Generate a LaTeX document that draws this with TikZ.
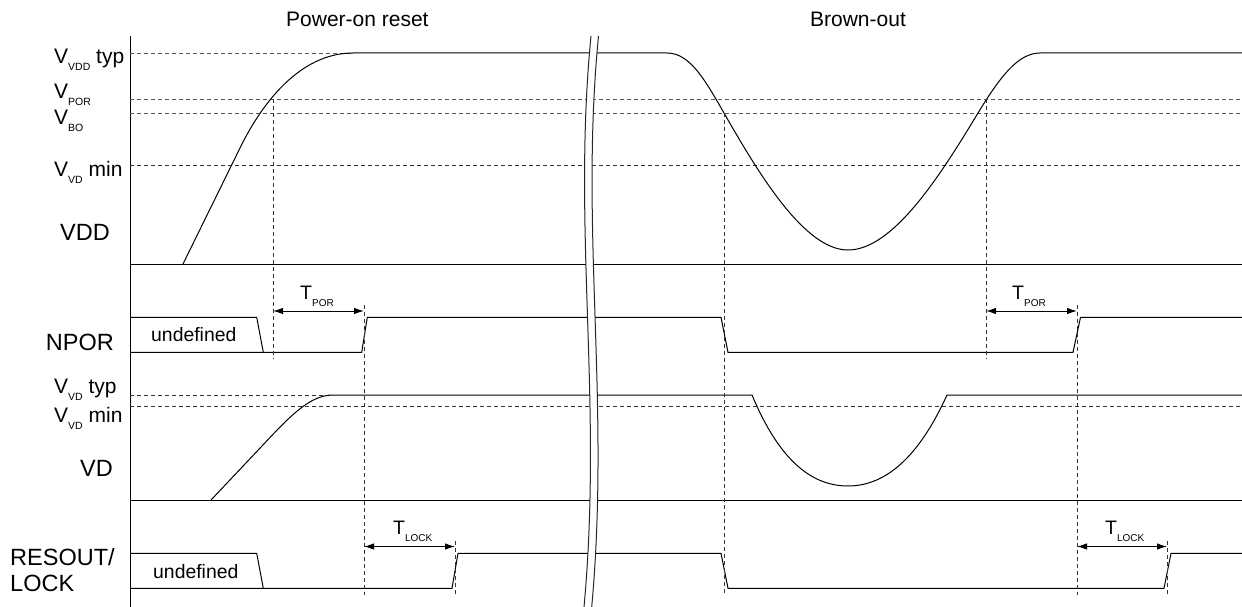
\documentclass[tikz,border=0pt]{standalone}
\usepackage{fontspec}
\setmainfont{Liberation Sans}
\usetikzlibrary{arrows.meta}
\newcommand{\lsub}[1]{\raisebox{-7pt}{\fontsize{10.5}{10.5}\selectfont #1}}
\newcommand{\tsub}[1]{\raisebox{-7.5pt}{\fontsize{10}{10}\selectfont #1}}
\begin{document}
\begin{tikzpicture}[x=1pt,y=-1pt,
  sig/.style={line width=1pt, black},
  thr/.style={line width=0.9pt, black!65, dash pattern=on 4pt off 3pt},
  vdash/.style={line width=0.9pt, black!80, dash pattern=on 4pt off 3pt},
  dim/.style={line width=1pt, {Latex[length=10pt,width=6.5pt]}-{Latex[length=10pt,width=6.5pt]}},
  brk/.style={line width=1pt, black!85},
  big/.style={inner sep=0pt, font=\fontsize{23.5}{26}\selectfont},
  vl/.style={inner sep=0pt, font=\fontsize{21}{24}\selectfont},
  ttl/.style={inner sep=0pt, font=\fontsize{21}{24}\selectfont},
  und/.style={inner sep=0pt, font=\fontsize{19.4}{22}\selectfont},
  tl/.style={inner sep=0pt, font=\fontsize{19.5}{22}\selectfont}]
\useasboundingbox (0,0) rectangle (1242,607);
% titles
\node[ttl, anchor=base west] (ttlpor) at (286,26.7) {Power-on reset};
\node[ttl, anchor=base] (ttlbo) at (858,26.7) {Brown-out};
% labels
\node[vl, anchor=base west] (lvddtyp) at (54,63.3) {V\lsub{VDD} typ};
\node[vl, anchor=base west] (lpor) at (54,98.3) {V\lsub{POR}};
\node[vl, anchor=base west] (lbo) at (54,124.3) {V\lsub{BO}};
\node[vl, anchor=base west] (lvdmin) at (54,176.7) {V\lsub{VD} min};
\node[big, anchor=base west] (lvdd) at (60,240) {VDD};
\node[big, anchor=base west] (lnpor) at (45.7,350) {NPOR};
\node[vl, anchor=base west] (lvdtyp2) at (54,393.3) {V\lsub{VD} typ};
\node[vl, anchor=base west] (lvdmin2) at (54,422.7) {V\lsub{VD} min};
\node[big, anchor=base west] (lvd) at (80,476.7) {VD};
\node[big, anchor=base west] (lres) at (10,565) {RESOUT/};
\node[big, anchor=base west] (llock) at (10,591.7) {LOCK};
\node[und, anchor=base west] (und1) at (151,341.7) {undefined};
\node[und, anchor=base west] (und2) at (153,578.3) {undefined};
% axis
\draw[sig] (130,36) -- (130,607);
% thresholds
\draw[thr] (130,53) -- (353,53);
\draw[thr] (130,99) -- (1242,99);
\draw[thr] (130,113) -- (1242,113);
\draw[vdash] (130,165) -- (1242,165);
\draw[vdash] (130,395) -- (333,395);
\draw[vdash] (130,406) -- (1242,406);
% VDD
\draw[sig] (130,264) -- (1242,264);
\draw[sig] (183,264) -- (240,148) .. controls (262,103) and (300,53) .. (353,53) -- (667,53)
  .. controls (690,53) and (705,80) .. (724,113)
  .. controls (760,176) and (805,250) .. (848,250)
  .. controls (893,250) and (940,176) .. (978,113)
  .. controls (1000,77) and (1018,53) .. (1040,53) -- (1242,53);
% NPOR
\draw[sig] (130,317.3) -- (256.7,317.3) -- (263.3,352.3);
\draw[sig] (130,352.3) -- (361.7,352.3) -- (367.3,317.3) -- (721,317.3) -- (728,352.3)
  -- (1073,352.3) -- (1080.5,317.3) -- (1242,317.3);
% VD
\draw[sig] (130,500) -- (1242,500);
\draw[sig] (211,500) -- (262,446) .. controls (290,416) and (310,395) .. (333,395) -- (752,395)
  .. controls (775,450) and (805,486) .. (848,486)
  .. controls (890,486) and (922,450) .. (947,395) -- (1242,395);
% RESOUT / LOCK
\draw[sig] (130,553.3) -- (256.7,553.3) -- (263.3,588.3);
\draw[sig] (130,588.3) -- (452,588.3) -- (458,553.3) -- (721,553.3) -- (728,588.3)
  -- (1164,588.3) -- (1171,553.3) -- (1242,553.3);
% vertical dashed markers
\draw[vdash] (273,99) -- (273,359);
\draw[vdash] (364,305) -- (364,595);
\draw[vdash] (455,541) -- (455,595);
\draw[vdash] (724,113) -- (724,595);
\draw[vdash] (986,99) -- (986,359);
\draw[vdash] (1077,305) -- (1077,595);
\draw[vdash] (1167,541) -- (1167,595);
% dimension arrows
\coordinate (a1) at (273,311); \coordinate (a2) at (364,311);
\coordinate (a3) at (364,546.5); \coordinate (a4) at (455,546.5);
\coordinate (a5) at (986,311); \coordinate (a6) at (1077,311);
\coordinate (a7) at (1077,546.5); \coordinate (a8) at (1167,546.5);
\draw[dim] (a1) -- (a2);
\draw[dim] (a3) -- (a4);
\draw[dim] (a5) -- (a6);
\draw[dim] (a7) -- (a8);
\node[tl, anchor=base west] (tpor1) at (300,299) {T\tsub{POR}};
\node[tl, anchor=base west] (tlock1) at (393,534) {T\tsub{LOCK}};
\node[tl, anchor=base west] (tpor2) at (1012,299) {T\tsub{POR}};
\node[tl, anchor=base west] (tlock2) at (1105,534) {T\tsub{LOCK}};
% break
\fill[white] (591,36) .. controls (572,230) and (603,400) .. (584,607) -- (591.7,607)
  .. controls (610.7,400) and (579.7,230) .. (598.5,36) -- cycle;
\draw[brk] (591,36) .. controls (572,230) and (603,400) .. (584,607);
\draw[brk] (598.5,36) .. controls (579.5,230) and (610.5,400) .. (591.7,607);
\end{tikzpicture}
\end{document}
